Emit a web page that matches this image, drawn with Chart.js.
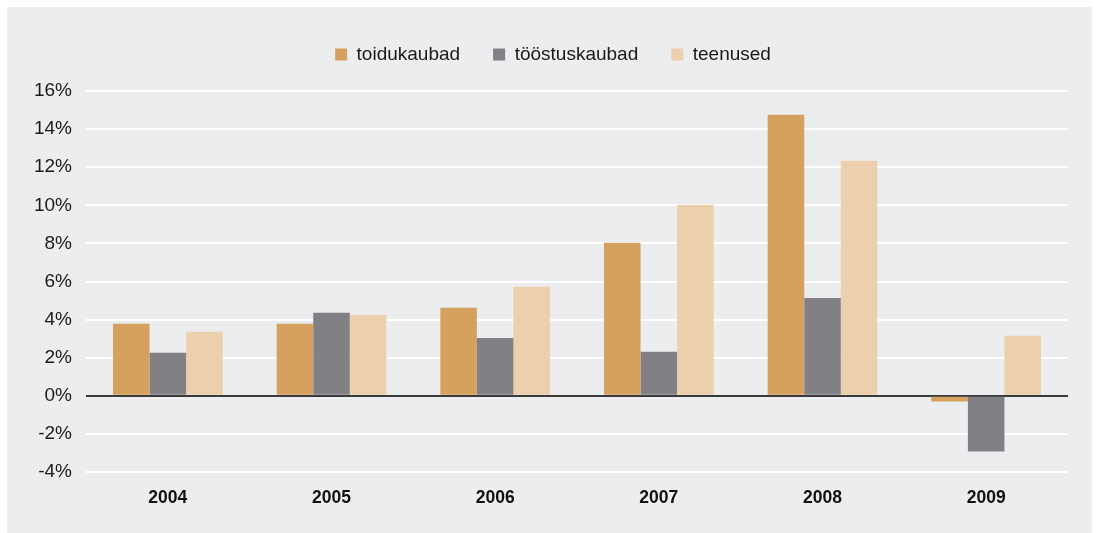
<!DOCTYPE html>
<html>
<head>
<meta charset="utf-8">
<script src="https://cdn.jsdelivr.net/npm/chart.js@4.4.1/dist/chart.umd.min.js"></script>
<style>
  html, body { margin: 0; padding: 0; background: #fff; }
  #panel { position: absolute; left: 7px; top: 7px; width: 1085px; height: 526px; background: #ECEDEF; }
  #chart { display: block; }
</style>
</head>
<body>
<div id="panel"><canvas id="chart" width="1085" height="526"></canvas></div>
<script>
'use strict';
const years = ['2004', '2005', '2006', '2007', '2008', '2009'];
const toidukaubad = [3.78, 3.78, 4.62, 8.03, 14.75, -0.3];
const tooostuskaubad = [2.26, 4.36, 3.04, 2.31, 5.14, -2.92];
const teenused = [3.36, 4.25, 5.72, 10.03, 12.34, 3.15];

// fixed legend block height so the plot top lands on the 16% line,
// and nudge the legend row a bit right like in the original
const legendPlace = {
    id: 'legendPlace',
    beforeInit(chart) {
        const fit = chart.legend.fit;
        chart.legend.fit = function () {
            fit.bind(chart.legend)();
            this.height = 79;
        };
    },
    afterLayout(chart) {
        chart.legend.left += 15.5;
        chart.legend.right += 15.5;
    }
};

new Chart(document.getElementById('chart'), {
    type: 'bar',
    data: {
        labels: years,
        datasets: [
            { label: 'toidukaubad', data: toidukaubad, backgroundColor: '#D6A05E', borderWidth: 0 },
            { label: 'tööstuskaubad', data: tooostuskaubad, backgroundColor: '#818085', borderWidth: 0 },
            { label: 'teenused', data: teenused, backgroundColor: '#ECCFAC', borderWidth: 0 }
        ]
    },
    options: {
        responsive: false,
        animation: false,
        layout: { padding: { left: 0, right: 24, top: 5, bottom: 0 } },
        datasets: { bar: { categoryPercentage: 0.67, barPercentage: 1 } },
        plugins: {
            legend: {
                display: true,
                position: 'top',
                labels: {
                    boxWidth: 12,
                    boxHeight: 12,
                    padding: 33,
                    color: '#1a1a1a',
                    font: { family: 'Liberation Sans', size: 19 }
                }
            },
            tooltip: { enabled: false }
        },
        scales: {
            x: {
                grid: { display: false },
                border: { display: false },
                ticks: {
                    padding: 8,
                    color: '#111',
                    font: { family: 'Liberation Sans', size: 17.5, weight: 'bold' }
                },
                afterFit(scale) { scale.height = 61; }
            },
            y: {
                min: -4,
                max: 16,
                border: { display: false },
                grid: {
                    drawTicks: false,
                    color: (ctx) => ctx.tick && ctx.tick.value === 0 ? '#3a3a3a' : '#ffffff',
                    lineWidth: 2
                },
                ticks: {
                    stepSize: 2,
                    padding: 14,
                    color: '#1a1a1a',
                    font: { family: 'Liberation Sans', size: 19 },
                    callback: (v) => v + '%'
                },
                afterFit(scale) { scale.width = 79; }
            }
        }
    },
    plugins: [legendPlace]
});
</script>
</body>
</html>
